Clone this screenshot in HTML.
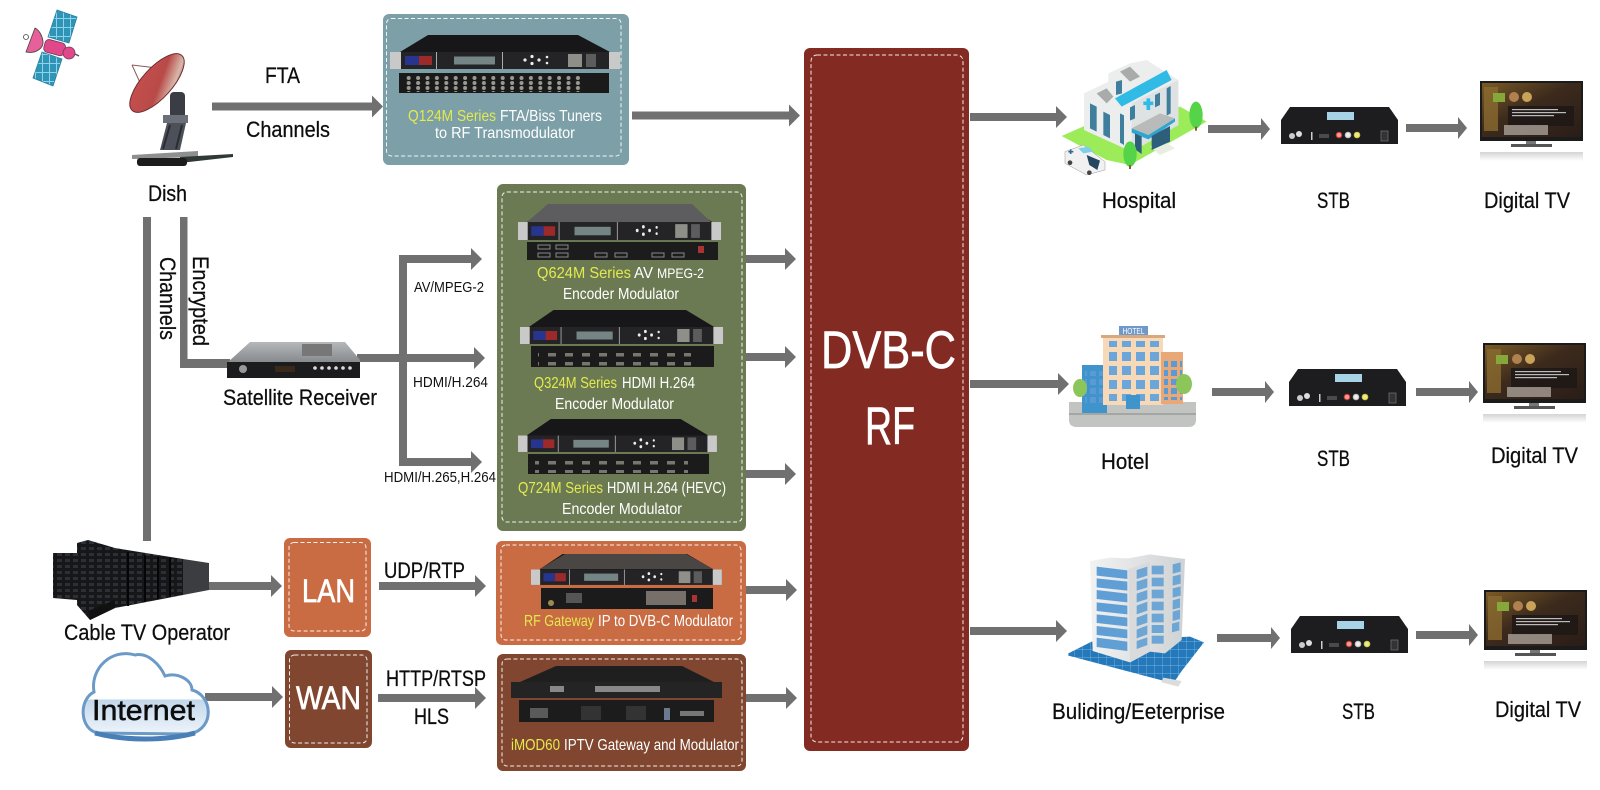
<!DOCTYPE html>
<html lang="en">
<head>
<meta charset="utf-8">
<title>DVB-C RF Headend Diagram</title>
<style>
html,body{margin:0;padding:0;background:#fff;width:1600px;height:790px;overflow:hidden}
svg{display:block}
text{font-family:"Liberation Sans",sans-serif}
.k{fill:#0d0d0d;font-size:22px;stroke:#0d0d0d;stroke-width:.25}
.s{fill:#111;font-size:15px}
.w{fill:#fff;font-size:16px}
.y{fill:#e4ea4e;font-size:16px}
.b{fill:#fff;stroke:#fff;stroke-width:.7}
.d{fill:none;stroke:#fff;stroke-width:1;stroke-dasharray:4 2.5;opacity:.9}
</style>
</head>
<body>
<svg width="1600" height="790" viewBox="0 0 1600 790" xmlns="http://www.w3.org/2000/svg">
<defs>
<linearGradient id="dishG" x1="0" y1="0" x2="1" y2="1"><stop offset="0" stop-color="#c9504f"/><stop offset=".55" stop-color="#b84a48"/><stop offset=".8" stop-color="#d8b8aa"/><stop offset="1" stop-color="#6b3036"/></linearGradient>
<linearGradient id="silver" x1="0" y1="0" x2="0" y2="1"><stop offset="0" stop-color="#b5b8ba"/><stop offset="1" stop-color="#85888a"/></linearGradient>
<linearGradient id="cloudG" x1="0" y1="0" x2="0" y2="1"><stop offset="0" stop-color="#fff"/><stop offset=".56" stop-color="#fff"/><stop offset=".58" stop-color="#c4d8ec"/><stop offset="1" stop-color="#eef4fa"/></linearGradient>
<linearGradient id="tvG" x1="0" y1="0" x2="1" y2="1"><stop offset="0" stop-color="#7a5a26"/><stop offset=".45" stop-color="#3c2a1c"/><stop offset="1" stop-color="#2a1d18"/></linearGradient>
<linearGradient id="reflect" x1="0" y1="0" x2="0" y2="1"><stop offset="0" stop-color="#d4d4d4"/><stop offset="1" stop-color="#fff"/></linearGradient>
<linearGradient id="wall" x1="0" y1="0" x2="1" y2="0"><stop offset="0" stop-color="#f2f2f2"/><stop offset="1" stop-color="#cfd2d4"/></linearGradient>
<pattern id="bnc" width="9.4" height="10" patternUnits="userSpaceOnUse"><circle cx="4.500" cy="3" r="2" fill="#9a9a92"/><circle cx="4.500" cy="8" r="2" fill="#9a9a92"/></pattern>
<pattern id="hdmi" width="17" height="9" patternUnits="userSpaceOnUse"><rect x="4" y="2" width="8" height="3.500" fill="#77776f"/></pattern>
<pattern id="win" width="9" height="9" patternUnits="userSpaceOnUse"><rect x="1" y="1" width="6" height="6" fill="#5b9bd5"/></pattern>
<pattern id="win2" width="14" height="14" patternUnits="userSpaceOnUse"><rect x="2" y="2" width="9" height="9" fill="#6aa6da"/></pattern>
<pattern id="rackp" width="8" height="6" patternUnits="userSpaceOnUse"><rect width="8" height="6" fill="#17171a"/><rect x="1" y="1" width="5" height="3" fill="#2c2f36"/></pattern>
<pattern id="panel" width="7" height="9" patternUnits="userSpaceOnUse"><rect width="7" height="9" fill="#2f95b8"/><rect x="0" y="0" width="7" height="1" fill="#8fd3e6"/><rect x="0" y="0" width="1" height="9" fill="#8fd3e6"/></pattern>
<pattern id="blue" width="24" height="24" patternUnits="userSpaceOnUse"><rect width="24" height="24" fill="#2579ba"/><path d="M0 0H24M0 0V24" stroke="#8cc4ea" stroke-width="2"/></pattern>

<g id="front">
<polygon points="10,17 220,17 188,0 38,0" fill="#17171a"/>
<rect x="0" y="17" width="230" height="17" fill="#242426"/>
<rect x="0" y="17" width="11" height="17" fill="#c9c9c9"/>
<rect x="219" y="17" width="11" height="17" fill="#c9c9c9"/>
<rect x="15" y="21" width="14" height="9" fill="#27358f"/>
<rect x="29" y="21" width="13" height="9" fill="#9c2a2a"/>
<rect x="46" y="17" width="1" height="17" fill="#aaa"/>
<rect x="112" y="17" width="1" height="17" fill="#aaa"/>
<rect x="64" y="21.500" width="41" height="8" fill="#758585"/>
<g fill="#eee"><circle cx="135" cy="25" r="1.600"/><circle cx="142" cy="21.500" r="1.600"/><circle cx="142" cy="28.500" r="1.600"/><circle cx="149" cy="25" r="1.600"/><circle cx="157" cy="22" r="1.300"/><circle cx="157" cy="28" r="1.300"/></g>
<rect x="178" y="19" width="14" height="13" fill="#8f8f8a"/>
<rect x="196" y="19" width="10" height="13" fill="#5c5c5c"/>
</g>

<g id="stb">
<polygon points="0,37 117,37 117,13 108,0 9,0 0,13" fill="#1d1d1f"/>
<rect x="46" y="5" width="27" height="8" fill="#a6d4e6"/>
<circle cx="11" cy="29" r="3" fill="#ccc"/><circle cx="18" cy="27" r="3" fill="#ddd"/>
<rect x="30" y="25" width="1.500" height="8" fill="#ccc"/>
<rect x="38" y="27" width="10" height="4" fill="#4a4a4a"/>
<circle cx="58" cy="28" r="2.800" fill="#e8a090" stroke="#c33" stroke-width="1"/>
<circle cx="67" cy="28" r="2.800" fill="#eee" stroke="#bbb" stroke-width="1"/>
<circle cx="76" cy="28" r="2.800" fill="#efe59a" stroke="#cc3" stroke-width="1"/>
<rect x="100" y="24" width="7" height="10" fill="#333" stroke="#777" stroke-width=".7"/>
</g>

<g id="tv">
<rect x="0" y="0" width="103" height="60" fill="#1b1b1b"/>
<rect x="2" y="2" width="99" height="54" fill="url(#tvG)"/>
<rect x="4" y="6" width="14" height="44" fill="#8a6a30" opacity=".8"/>
<rect x="13" y="12" width="12" height="9" fill="#86a83a"/>
<circle cx="34" cy="16" r="5" fill="#b08050"/><circle cx="47" cy="16" r="5" fill="#c9a35a"/>
<rect x="28" y="25" width="66" height="20" fill="#1d1716" opacity=".85"/>
<g fill="#bbb"><rect x="32" y="28" width="46" height="1.200"/><rect x="32" y="31" width="54" height="1.200"/><rect x="32" y="34" width="42" height="1.200"/></g>
<rect x="24" y="44" width="44" height="10" fill="#b9b0a8" opacity=".7"/>
<rect x="46" y="60" width="10" height="4" fill="#777"/>
<rect x="31" y="63" width="41" height="3" fill="#555"/>
<rect x="0" y="71" width="103" height="9" fill="url(#reflect)"/>
</g>
</defs>

<!-- Satellite -->
<g>
<polygon points="57,10 77,17 69,43 48,37" fill="url(#panel)" stroke="#2a7f9f" stroke-width=".8"/>
<polygon points="42,52 62,59 53,86 33,78" fill="url(#panel)" stroke="#2a7f9f" stroke-width=".8"/>
<rect x="44" y="41" width="21" height="13" rx="4" fill="#e0488a" stroke="#6b3a55" stroke-width=".8" transform="rotate(15 54 48)"/>
<circle cx="69" cy="53" r="6" fill="#e0488a" stroke="#6b3a55" stroke-width=".8"/>
<path d="M75 54L79 56" stroke="#555" stroke-width="1.500"/>
<path d="M35 28 L26 52 C36 54 44 48 43 41 C42 35 39 30 35 28Z" fill="#e8609a" stroke="#444" stroke-width=".8"/>
<circle cx="26" cy="37" r="2.500" fill="#fff" stroke="#444" stroke-width=".8"/>
</g>

<!-- Dish -->
<g>
<path d="M132 65L157 68M132 65L142 87M157 68L142 87" stroke="#8c5a5a" stroke-width="1" fill="none"/>
<rect x="170" y="92" width="15" height="28" rx="4" fill="#3a3d44"/>
<ellipse cx="157" cy="83" rx="37" ry="15" transform="rotate(-48 157 83)" fill="url(#dishG)" stroke="#6e2c30" stroke-width="1"/>
<rect x="163" y="115" width="25" height="8" fill="#6b7078"/>
<polygon points="167,123 186,123 180,150 160,150" fill="#4c5058"/>
<path d="M170 125L163 149M182 125L176 149" stroke="#2a2c30" stroke-width="2"/>
<polygon points="132,155 198,151 198,157 132,159" fill="#8e8f90"/>
<polygon points="180,157 233,154 233,157 180,163" fill="#2f3a34"/>
<rect x="137" y="158" width="50" height="8" rx="3" fill="#1c1c1c"/>
</g>

<!-- Main arrows and lines -->
<g fill="#707070">
<path d="M212 102.500H372v-7l11 11 -11 11v-7H212Z"/>
<path d="M632 111.500H789v-7l11 11 -11 11v-7H632Z"/>
<rect x="143" y="217" width="8" height="324"/>
<path d="M180 217h7.500v142H230v9H180Z"/>
<path d="M357 354H399V255H471v-7l11 11 -11 11v-7H407V354H474v-7l11 11 -11 11v-7H407V458H471v-7l11 11 -11 11v-7H399V362H357Z"/>
<path d="M746 255H785v-7l11 11 -11 11v-7H746Z"/>
<path d="M746 353H785v-7l11 11 -11 11v-7H746Z"/>
<path d="M746 470H785v-7l11 11 -11 11v-7H746Z"/>
<path d="M746 586H786v-7l11 11 -11 11v-7H746Z"/>
<path d="M746 694H786v-7l11 11 -11 11v-7H746Z"/>
<path d="M205 582H271v-7l11 11 -11 11v-7H205Z"/>
<path d="M379 582H475v-7l11 11 -11 11v-7H379Z"/>
<path d="M205 693H272v-7l11 11 -11 11v-7H205Z"/>
<path d="M378 694H475v-7l11 11 -11 11v-7H378Z"/>
<path d="M970 113H1056v-7l11 11 -11 11v-7H970Z"/>
<path d="M1208 125H1261v-7l9 11 -9 11v-7H1208Z"/>
<path d="M1406 124H1458v-7l9 11 -9 11v-7H1406Z"/>
<path d="M970 380H1058v-7l11 11 -11 11v-7H970Z"/>
<path d="M1212 388H1265v-7l9 11 -9 11v-7H1212Z"/>
<path d="M1416 388H1469v-7l9 11 -9 11v-7H1416Z"/>
<path d="M970 627H1056v-7l11 11 -11 11v-7H970Z"/>
<path d="M1217 634H1271v-7l9 11 -9 11v-7H1217Z"/>
<path d="M1416 631H1469v-7l9 11 -9 11v-7H1416Z"/>
</g>

<!-- Panels -->
<rect x="383" y="14" width="246" height="151" rx="6" fill="#7c9fa8"/>
<rect x="386.500" y="18.500" width="234.500" height="137.500" rx="5" class="d"/>
<rect x="497" y="184" width="249" height="347" rx="6" fill="#6b7a53"/>
<rect x="502" y="192" width="240" height="330" rx="5" class="d"/>
<rect x="496" y="541" width="250" height="104" rx="6" fill="#c96b43"/>
<rect x="501" y="545" width="240" height="95" rx="5" class="d"/>
<rect x="497" y="654" width="249" height="117" rx="6" fill="#80462f"/>
<rect x="502" y="659" width="240" height="107" rx="5" class="d"/>
<rect x="284" y="538" width="87" height="99" rx="6" fill="#c96b43"/>
<rect x="289" y="542.500" width="77" height="88.500" rx="5" class="d"/>
<rect x="285" y="650" width="87" height="98" rx="6" fill="#80462f"/>
<rect x="289.500" y="655" width="77.500" height="88" rx="5" class="d"/>
<rect x="804" y="48" width="165" height="703" rx="6" fill="#832a22"/>
<rect x="811" y="55" width="152" height="687" rx="6" class="d"/>

<!-- Rack units -->
<use href="#front" transform="translate(390,35)"/>
<rect x="399" y="73" width="210" height="20" fill="#1a1a1a"/>
<rect x="404" y="75" width="178" height="17" fill="url(#bnc)"/>

<use href="#front" transform="translate(518,204) scale(.883,1.06)"/>
<polygon points="527,222 711,222 692,204 548,204" fill="#5d5d5f"/>
<rect x="527" y="242" width="191" height="18" fill="#1c1c1c"/>
<g fill="none" stroke="#888" stroke-width="1"><rect x="538" y="245" width="12" height="4"/><rect x="556" y="245" width="12" height="4"/><rect x="538" y="253" width="12" height="4"/><rect x="556" y="253" width="12" height="4"/><rect x="595" y="253" width="12" height="4"/><rect x="615" y="253" width="12" height="4"/><rect x="652" y="253" width="12" height="4"/><rect x="672" y="253" width="12" height="4"/></g>
<rect x="698" y="246" width="6" height="7" fill="#a33"/>

<use href="#front" transform="translate(520,310) scale(.883,1)"/>
<rect x="531" y="346" width="183" height="21" fill="#1b1b1b"/>
<rect x="538" y="349" width="153" height="17" fill="url(#hdmi)"/>

<use href="#front" transform="translate(518,419) scale(.865,.97)"/>
<rect x="528" y="454" width="181" height="20" fill="#1b1b1b"/>
<rect x="535" y="456" width="153" height="17" fill="url(#hdmi)"/>

<use href="#front" transform="translate(531,554) scale(.83,.91)"/>
<polygon points="540,569 713,569 686,554 565,554" fill="#4a4644"/>
<rect x="541" y="588" width="172" height="21" fill="#1b1b1b"/>
<rect x="566" y="593" width="16" height="10" fill="#555"/>
<circle cx="551" cy="603" r="3" fill="#a08a50"/>
<rect x="646" y="591" width="40" height="14" fill="#77706a"/>
<rect x="692" y="595" width="5" height="7" fill="#a33"/>

<polygon points="511,698 722,698 722,686 682,666 556,666 511,686" fill="#1f1f1f"/>
<rect x="511" y="682" width="211" height="16" fill="#242424"/>
<g fill="#888"><rect x="550" y="686" width="14" height="6"/><rect x="595" y="686" width="14" height="6"/><rect x="606" y="686" width="54" height="6"/></g>
<rect x="519" y="700" width="195" height="22" fill="#1c1c1c"/>
<rect x="530" y="708" width="18" height="10" fill="#5a5a5a"/>
<rect x="581" y="706" width="20" height="14" fill="#333"/><rect x="626" y="706" width="20" height="14" fill="#333"/>
<rect x="664" y="708" width="6" height="12" fill="#6c7a90"/><rect x="680" y="711" width="24" height="5" fill="#777"/>

<!-- Satellite Receiver -->
<polygon points="227,363 360,363 360,360 345,342 250,342" fill="url(#silver)"/>
<rect x="227" y="362" width="133" height="16" fill="#1c1c1e"/>
<rect x="302" y="344" width="30" height="12" fill="#777"/>
<circle cx="243" cy="369" r="4" fill="#999"/>
<rect x="275" y="366" width="20" height="6" fill="#39291a"/>
<g fill="#ddd"><circle cx="315" cy="368" r="1.800"/><circle cx="322" cy="368" r="1.800"/><circle cx="329" cy="368" r="1.800"/><circle cx="336" cy="368" r="1.800"/><circle cx="343" cy="368" r="1.800"/><circle cx="350" cy="368" r="1.800"/></g>

<!-- Server room -->
<polygon points="53,553 77,553 77,600 53,598" fill="url(#rackp)"/>
<polygon points="115,548 183,559 183,595 115,608" fill="url(#rackp)"/>
<path d="M128 552V606M145 555V602M158 557V599M170 558V597" stroke="#050505" stroke-width="2"/>
<polygon points="183,559 209,563 209,590 183,595" fill="#3c3d40"/>
<polygon points="77,543 88,540 115,548 115,608 90,620 77,605" fill="url(#rackp)"/>
<polygon points="88,611 115,600 115,608 90,620" fill="#111"/>

<!-- Cloud -->
<path d="M98 733 C80 730 78 700 94 692 C90 668 112 648 135 655 C148 652 160 665 165 676 C178 672 192 680 192 690 C212 695 216 728 190 734 Z" fill="url(#cloudG)" stroke="#6b9ac6" stroke-width="3"/>
<path d="M95 733 C125 741 165 741 195 733" stroke="#4a7eb6" stroke-width="5" fill="none"/>

<!-- Hospital -->
<g transform="translate(1050,50) scale(.33333)">
<polygon points="35,258 110,225 390,170 470,215 240,345 170,330" fill="#9cec5a"/>
<polygon points="300,290 345,275 375,295 330,315" fill="#e8efe0"/>
<polygon points="102,130 175,95 175,70 240,40 290,30 385,90 385,225 245,305 102,240" fill="#eceeee"/>
<polygon points="245,160 385,90 385,225 245,305" fill="#dfe2e3"/>
<polygon points="140,130 170,115 190,140 170,160" fill="#a9abab"/>
<polygon points="210,65 240,50 270,80 240,95" fill="#a9abab"/>
<g fill="#3f7e9c"><polygon points="120,160 140,170 140,245 120,235"/><polygon points="160,185 180,195 180,265 160,255"/><polygon points="210,190 222,196 222,285 210,278"/><polygon points="240,172 255,165 255,205 240,212"/><polygon points="315,135 330,128 330,165 315,172"/><polygon points="350,115 362,108 362,190 350,197"/><polygon points="198,95 216,90 216,130 198,135"/></g>
<polygon points="195,145 350,60 365,90 215,170" fill="#2fbbe6"/>
<path d="M280 160H310M295 145V180" stroke="#2fbbe6" stroke-width="11"/>
<polygon points="245,235 330,190 375,205 295,255" fill="#b9bbbb"/>
<polygon points="245,235 295,255 375,205 375,215 295,268 245,248" fill="#2fa6d0"/>
<polygon points="305,258 360,228 360,275 305,300" fill="#2d5f7a"/>
<polygon points="255,250 275,260 275,312 255,298" fill="#2d5f7a"/>
<ellipse cx="438" cy="195" rx="20" ry="40" fill="#55d44a"/><rect x="435" y="230" width="6" height="12" fill="#8a5a30"/>
<ellipse cx="240" cy="312" rx="20" ry="38" fill="#55d44a"/><rect x="237" y="345" width="6" height="12" fill="#8a5a30"/>
<polygon points="45,305 100,285 165,335 165,360 110,375 45,340" fill="#f1f1f1" stroke="#9a9a9a" stroke-width="1.500"/>
<polygon points="110,315 150,332 142,360 118,345" fill="#24465e"/>
<polygon points="85,295 115,290 130,305 100,310" fill="#7fd0e6"/>
<path d="M55 305H70M62 298V312" stroke="#2e6d8f" stroke-width="5"/>
<circle cx="60" cy="338" r="7" fill="#444"/><circle cx="118" cy="368" r="7" fill="#444"/>
</g>

<!-- Hotel -->
<g>
<path d="M1069 402H1196V420Q1196 427 1188 427H1077Q1069 427 1069 420Z" fill="#c2c4c2"/>
<rect x="1069" y="413" width="127" height="2" fill="#a4a6a4"/>
<rect x="1082" y="365" width="25" height="48" fill="#3f94cc"/>
<rect x="1103" y="337" width="60" height="68" fill="#f7d9b8"/>
<rect x="1101" y="335" width="64" height="3" fill="#d9a97e"/>
<rect x="1161" y="352" width="22" height="52" fill="#e8a878"/>
<rect x="1119" y="326" width="29" height="9" fill="#6f99c9"/>
<text x="1133.500" y="334" font-size="8" fill="#fff" text-anchor="middle" textLength="22" lengthAdjust="spacingAndGlyphs">HOTEL</text>
<rect x="1109" y="341" width="50" height="60" fill="url(#win2)"/>
<rect x="1085" y="371" width="18" height="32" fill="url(#win)"/>
<rect x="1164" y="358" width="18" height="42" fill="url(#win)"/>
<ellipse cx="1080" cy="388" rx="7" ry="9" fill="#8cc65a"/>
<ellipse cx="1184" cy="384" rx="8" ry="10" fill="#8cc65a"/>
<rect x="1126" y="395" width="14" height="14" fill="#3f94cc"/>
</g>

<!-- Building -->
<g transform="translate(1050,545) scale(.33333)">
<polygon points="55,325 125,290 420,275 462,292 395,378 370,415 55,332" fill="url(#blue)"/>
<polygon points="340,398 395,408 385,425 335,412" fill="#dcdcdc"/>
<polygon points="120,48 180,38 235,40 300,28 405,42 395,285 345,325 300,320 240,352 128,318" fill="url(#wall)"/>
<polygon points="235,72 300,50 300,320 240,352" fill="#d8dadc"/>
<g fill="#5f9fd6">
<polygon points="140,65 232,76 232,102 140,92"/><polygon points="140,100 232,110 232,137 140,127"/><polygon points="140,135 232,146 232,172 140,162"/><polygon points="140,172 232,182 232,208 140,198"/><polygon points="140,208 232,218 232,244 140,234"/><polygon points="140,243 232,254 232,280 140,270"/><polygon points="140,278 232,290 232,318 140,306"/>
</g>
<g fill="#6da6d4">
<polygon points="260,75 292,65 292,92 260,102"/><polygon points="260,110 292,100 292,127 260,137"/><polygon points="260,146 292,135 292,162 260,172"/><polygon points="260,182 292,170 292,197 260,208"/><polygon points="260,218 292,206 292,233 260,244"/><polygon points="260,254 292,241 292,268 260,280"/><polygon points="260,288 292,277 292,300 260,312"/>
<rect x="305" y="62" width="36" height="26"/><rect x="305" y="98" width="36" height="26"/><rect x="305" y="134" width="36" height="26"/><rect x="305" y="170" width="36" height="26"/><rect x="305" y="206" width="36" height="26"/><rect x="305" y="240" width="36" height="24"/><rect x="305" y="272" width="36" height="24"/>
<polygon points="368,58 392,52 392,80 368,86"/><polygon points="368,94 392,88 392,116 368,122"/><polygon points="368,130 392,124 392,152 368,158"/><polygon points="368,166 390,160 390,188 368,194"/><polygon points="368,200 390,194 390,222 368,228"/><polygon points="366,236 388,230 388,256 366,262"/>
</g>
</g>

<!-- STBs and TVs -->
<use href="#stb" transform="translate(1281,107)"/>
<use href="#stb" transform="translate(1289,369)"/>
<use href="#stb" transform="translate(1291,616)"/>
<use href="#tv" transform="translate(1480,81)"/>
<use href="#tv" transform="translate(1483,343)"/>
<use href="#tv" transform="translate(1484,590)"/>

<!-- Labels -->
<text class="k" x="265" y="83" textLength="35" lengthAdjust="spacingAndGlyphs">FTA</text>
<text class="k" x="246" y="137" textLength="84" lengthAdjust="spacingAndGlyphs">Channels</text>
<text class="k" x="148" y="201" textLength="39" lengthAdjust="spacingAndGlyphs">Dish</text>
<text class="k" transform="translate(193,256) rotate(90)" textLength="90" lengthAdjust="spacingAndGlyphs">Encrypted</text>
<text class="k" transform="translate(160,257) rotate(90)" textLength="83" lengthAdjust="spacingAndGlyphs">Channels</text>
<text class="k" x="223" y="405" textLength="154" lengthAdjust="spacingAndGlyphs">Satellite Receiver</text>
<text class="s" x="414" y="292" textLength="70" lengthAdjust="spacingAndGlyphs">AV/MPEG-2</text>
<text class="s" x="413" y="387" textLength="75" lengthAdjust="spacingAndGlyphs">HDMI/H.264</text>
<text class="s" x="384" y="482" textLength="112" lengthAdjust="spacingAndGlyphs">HDMI/H.265,H.264</text>
<text class="k" x="384" y="578" textLength="81" lengthAdjust="spacingAndGlyphs">UDP/RTP</text>
<text class="k" x="386" y="686" textLength="100" lengthAdjust="spacingAndGlyphs">HTTP/RTSP</text>
<text class="k" x="414" y="724" textLength="35" lengthAdjust="spacingAndGlyphs">HLS</text>
<text class="k" x="64" y="640" textLength="166" lengthAdjust="spacingAndGlyphs">Cable TV Operator</text>
<text x="92" y="720" font-size="29" fill="#0d0d0d" stroke="#0d0d0d" stroke-width=".5" textLength="103" lengthAdjust="spacingAndGlyphs">Internet</text>
<text class="b" x="302" y="602" font-size="32" textLength="53" lengthAdjust="spacingAndGlyphs">LAN</text>
<text class="b" x="296" y="709" font-size="32" textLength="65" lengthAdjust="spacingAndGlyphs">WAN</text>
<text class="b" x="821" y="368" font-size="53" textLength="135" lengthAdjust="spacingAndGlyphs">DVB-C</text>
<text class="b" x="865" y="444" font-size="53" textLength="50" lengthAdjust="spacingAndGlyphs">RF</text>

<text class="y" x="408" y="121" textLength="88" lengthAdjust="spacingAndGlyphs">Q124M Series</text>
<text class="w" x="500" y="121" textLength="102" lengthAdjust="spacingAndGlyphs">FTA/Biss Tuners</text>
<text class="w" x="435" y="138" textLength="140" lengthAdjust="spacingAndGlyphs">to RF Transmodulator</text>
<text class="y" x="537" y="278" textLength="94" lengthAdjust="spacingAndGlyphs">Q624M Series</text>
<text class="w" x="634" y="278" textLength="19" lengthAdjust="spacingAndGlyphs">AV</text>
<text class="w" x="657" y="278" style="font-size:14px" textLength="47" lengthAdjust="spacingAndGlyphs">MPEG-2</text>
<text class="w" x="563" y="299" textLength="116" lengthAdjust="spacingAndGlyphs">Encoder Modulator</text>
<text class="y" x="534" y="388" textLength="83" lengthAdjust="spacingAndGlyphs">Q324M Series</text>
<text class="w" x="622" y="388" textLength="73" lengthAdjust="spacingAndGlyphs">HDMI H.264</text>
<text class="w" x="555" y="409" textLength="119" lengthAdjust="spacingAndGlyphs">Encoder Modulator</text>
<text class="y" x="518" y="493" textLength="85" lengthAdjust="spacingAndGlyphs">Q724M Series</text>
<text class="w" x="607" y="493" textLength="119" lengthAdjust="spacingAndGlyphs">HDMI H.264 (HEVC)</text>
<text class="w" x="562" y="514" textLength="120" lengthAdjust="spacingAndGlyphs">Encoder Modulator</text>
<text class="y" x="524" y="626" textLength="70" lengthAdjust="spacingAndGlyphs">RF Gateway</text>
<text class="w" x="598" y="626" textLength="135" lengthAdjust="spacingAndGlyphs">IP to DVB-C Modulator</text>
<text class="y" x="511" y="750" textLength="49" lengthAdjust="spacingAndGlyphs">iMOD60</text>
<text class="w" x="564" y="750" textLength="175" lengthAdjust="spacingAndGlyphs">IPTV Gateway and Modulator</text>

<text class="k" x="1102" y="208" textLength="74" lengthAdjust="spacingAndGlyphs">Hospital</text>
<text class="k" x="1317" y="208" textLength="33" lengthAdjust="spacingAndGlyphs">STB</text>
<text class="k" x="1484" y="208" textLength="86" lengthAdjust="spacingAndGlyphs">Digital TV</text>
<text class="k" x="1101" y="469" textLength="48" lengthAdjust="spacingAndGlyphs">Hotel</text>
<text class="k" x="1317" y="466" textLength="33" lengthAdjust="spacingAndGlyphs">STB</text>
<text class="k" x="1491" y="463" textLength="87" lengthAdjust="spacingAndGlyphs">Digital TV</text>
<text class="k" x="1052" y="719" textLength="173" lengthAdjust="spacingAndGlyphs">Buliding/Eeterprise</text>
<text class="k" x="1342" y="719" textLength="33" lengthAdjust="spacingAndGlyphs">STB</text>
<text class="k" x="1495" y="717" textLength="86" lengthAdjust="spacingAndGlyphs">Digital TV</text>
</svg>
</body>
</html>
